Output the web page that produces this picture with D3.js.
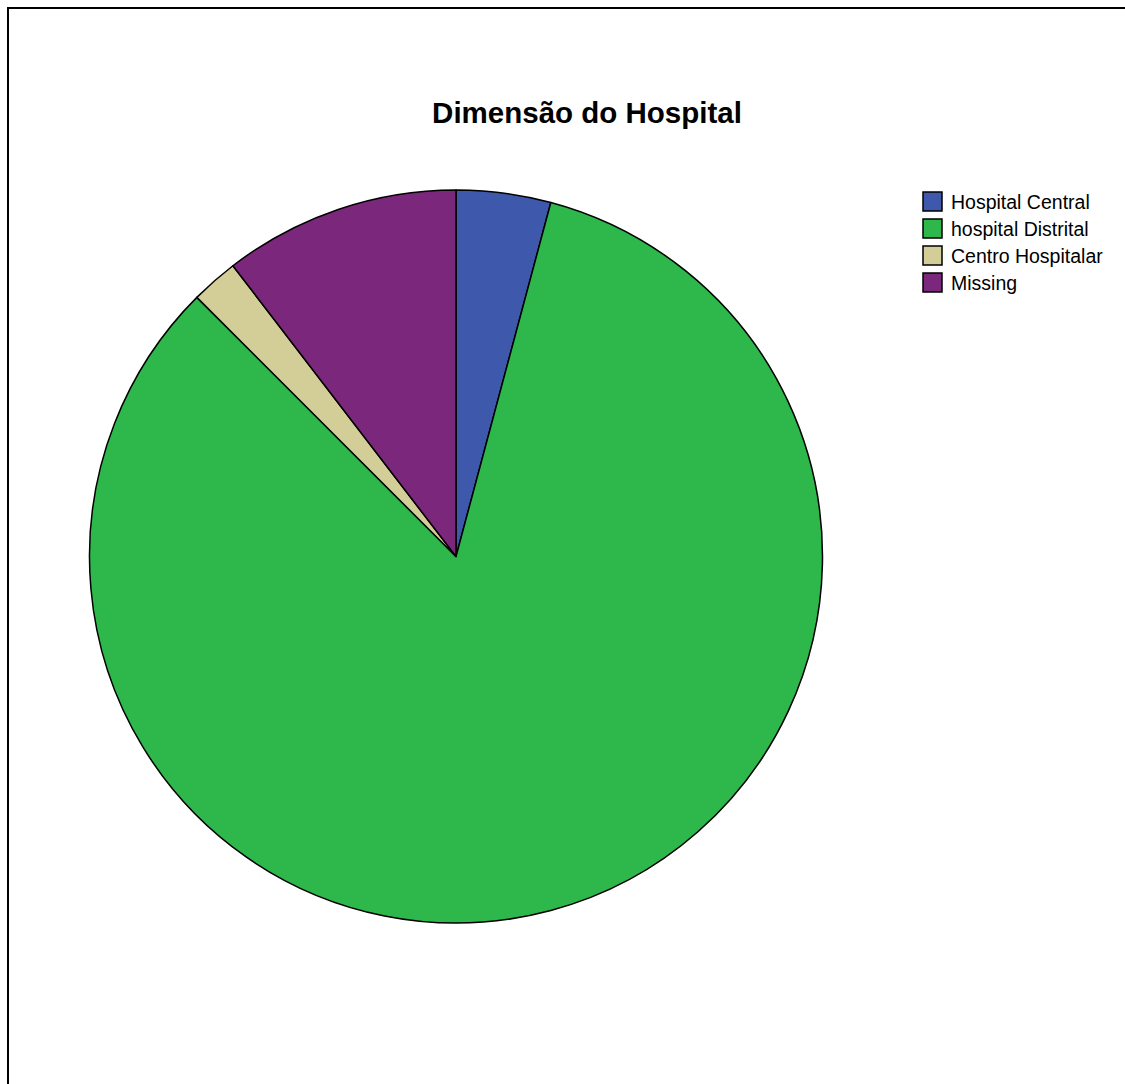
<!DOCTYPE html>
<html>
<head>
<meta charset="utf-8">
<script src="https://cdn.jsdelivr.net/npm/d3@7"></script>
<style>
  html, body { margin: 0; padding: 0; background: #fff; }
  svg { display: block; }
</style>
</head>
<body>
<svg id="chart" width="1125" height="1084"></svg>
<script>
// Hospital size categories and their counts
const categories = ["Hospital Central", "hospital Distrital", "Centro Hospitalar", "Missing"];
const counts = [2, 40, 1, 5];
const colors = ["#3e58ac", "#2eb84b", "#d3ce97", "#7b287c"];
const title = "Dimensão do Hospital";

const svg = d3.select("#chart");
const W = 1125, H = 1084;

svg.append("rect").attr("width", W).attr("height", H).attr("fill", "#fff");

// frame (right and bottom edges fall outside the view)
svg.append("rect")
  .attr("x", 8).attr("y", 8)
  .attr("width", 1140).attr("height", 1100)
  .attr("fill", "none").attr("stroke", "#000").attr("stroke-width", 2);

svg.append("text")
  .attr("x", 587).attr("y", 123)
  .attr("text-anchor", "middle")
  .attr("font-family", "Liberation Sans, Arial, sans-serif")
  .attr("font-weight", "bold")
  .attr("font-size", "29.5px")
  .attr("fill", "#000")
  .text(title);

const cx = 456, cy = 556.5, R = 366.5;
const data = categories.map((c, i) => ({ cat: c, value: counts[i], color: colors[i] }));
const pie = d3.pie().sort(null).value(d => d.value);
const arc = d3.arc().innerRadius(0).outerRadius(R);

svg.append("g")
  .attr("transform", `translate(${cx},${cy})`)
  .selectAll("path")
  .data(pie(data))
  .join("path")
  .attr("d", arc)
  .attr("fill", d => d.data.color)
  .attr("stroke", "#000")
  .attr("stroke-width", 1.5)
  .attr("stroke-linejoin", "round");

// legend
const legend = svg.append("g").attr("transform", "translate(923,192)");
const rows = legend.selectAll("g").data(data).join("g")
  .attr("transform", (d, i) => `translate(0,${i * 27})`);
rows.append("rect")
  .attr("width", 19).attr("height", 19)
  .attr("fill", d => d.color)
  .attr("stroke", "#000").attr("stroke-width", 1.5);
rows.append("text")
  .attr("x", 28).attr("y", 17)
  .attr("font-family", "Liberation Sans, Arial, sans-serif")
  .attr("font-size", "19.5px")
  .attr("fill", "#000")
  .text(d => d.cat);
</script>
</body>
</html>
